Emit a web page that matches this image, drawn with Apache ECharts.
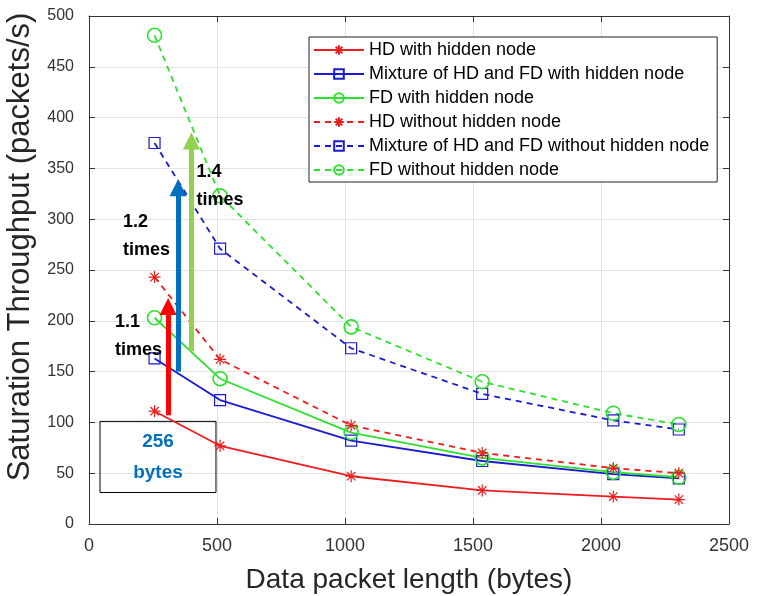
<!DOCTYPE html>
<html>
<head>
<meta charset="utf-8">
<script src="https://cdn.jsdelivr.net/npm/echarts@6/dist/echarts.min.js"></script>
<style>
  html, body { margin: 0; padding: 0; background: #fff; }
  #chart-container { width: 758px; height: 596px; }
</style>
</head>
<body>
<div id="chart-container"></div>
<script>
// packet lengths (bytes)
var packetLengths = [256, 512, 1024, 1536, 2048, 2304];

var seriesNames = [
  'HD with hidden node',
  'Mixture of HD and FD with hidden node',
  'FD with hidden node',
  'HD without hidden node',
  'Mixture of HD and FD without hidden node',
  'FD without hidden node'
];

var hdHidden = [111, 77, 47, 33, 27, 24];
var mixHidden = [163, 122, 82, 62, 49, 45];
var fdHidden = [203, 143, 90, 65, 51, 46];
var hdNoHidden = [243, 162, 97, 70, 55, 50];
var mixNoHidden = [375, 271, 173, 128, 102, 93];
var fdNoHidden = [481, 323, 194, 140, 109, 98];

// annotation arrows: [x, yFrom, yTo, colour]
var arrows = [
  [309, 107, 214, '#ff0000'],
  [348, 150, 331, '#0070c0'],
  [400, 170, 377, '#92d050']
];
// annotation texts: [x, y, text]
var ratioLabels = [
  [82, 185, '1.1\ntimes'],
  [113, 283, '1.2\ntimes'],
  [400, 333, '1.4\ntimes']
];

var RED = '#ee1c1c', BLUE = '#1a1ad2', GREEN = '#2ee02e';
var STAR = 'path://M5,0L5,10M0,5L10,5M1.5,1.5L8.5,8.5M8.5,1.5L1.5,8.5';
var SQUARE = 'path://M0,0L10,0L10,10L0,10Z';
var CIRCLE = 'path://M10,5A5,5,0,1,1,0,5A5,5,0,1,1,10,5Z';

function makeSeries(name, values, color, symbol, dashed) {
  var size = symbol === CIRCLE ? 14 : (symbol === STAR ? 12 : 11);
  return {
    name: name,
    type: 'line',
    data: packetLengths.map(function (x, i) { return [x, values[i]]; }),
    symbol: symbol,
    symbolSize: size,
    showAllSymbol: true,
    z: 3,
    lineStyle: { color: color, width: 1.8, type: dashed ? [6, 5] : 'solid' },
    itemStyle: { color: 'rgba(0,0,0,0)', borderColor: color, borderWidth: symbol === CIRCLE ? 1.6 : 1.2 },
    emphasis: { disabled: true }
  };
}

var chart = echarts.init(document.getElementById('chart-container'));

var series = [
  makeSeries(seriesNames[0], hdHidden, RED, STAR, false),
  makeSeries(seriesNames[1], mixHidden, BLUE, SQUARE, false),
  makeSeries(seriesNames[2], fdHidden, GREEN, CIRCLE, false),
  makeSeries(seriesNames[3], hdNoHidden, RED, STAR, true),
  makeSeries(seriesNames[4], mixNoHidden, BLUE, SQUARE, true),
  makeSeries(seriesNames[5], fdNoHidden, GREEN, CIRCLE, true)
];

// annotations drawn in data coordinates
series.push({
  type: 'line',
  data: [],
  silent: true,
  z: 5,
  markLine: {
    silent: true,
    symbol: ['none', 'triangle'],
    symbolSize: [17, 17],
    label: { show: false },
    data: arrows.map(function (a) {
      return [
        { coord: [a[0], a[1]], lineStyle: { color: a[3], width: 5, type: 'solid' } },
        { coord: [a[0], a[2]] }
      ];
    })
  },
  markArea: {
    silent: true,
    itemStyle: { color: 'rgba(0,0,0,0)', borderColor: '#000', borderWidth: 1 },
    label: {
      show: true,
      position: 'inside',
      formatter: '256\nbytes',
      color: '#0070c0',
      fontFamily: 'Liberation Sans',
      fontWeight: 'bold',
      fontSize: 19,
      lineHeight: 31
    },
    data: [[{ coord: [43, 101] }, { coord: [496, 31] }]]
  },
  markPoint: {
    silent: true,
    symbol: 'circle',
    symbolSize: 0,
    label: {
      show: true,
      position: 'right',
      color: '#000',
      fontFamily: 'Liberation Sans',
      fontWeight: 'bold',
      fontSize: 18,
      lineHeight: 28,
      align: 'left'
    },
    data: ratioLabels.map(function (t) {
      return { coord: [t[0], t[1]], label: { formatter: t[2] } };
    })
  }
});

var plainNum = function (v) { return String(v); };

var option = {
  animation: false,
  backgroundColor: '#fff',
  grid: { left: 89, right: 29, top: 16, bottom: 72, show: false, containLabel: false, outerBoundsMode: 'none' },
  legend: {
    data: seriesNames,
    orient: 'vertical',
    left: 309,
    top: 37,
    padding: [4, 8, 3, 4],
    itemWidth: 50,
    itemHeight: 12,
    itemGap: 6,
    backgroundColor: '#fff',
    borderColor: '#222',
    borderWidth: 1,
    textStyle: { color: '#000', fontSize: 18, fontFamily: 'Liberation Sans' },
    selectedMode: false
  },
  xAxis: [{
    type: 'value',
    min: 0,
    max: 2500,
    interval: 500,
    name: 'Data packet length (bytes)',
    nameLocation: 'middle',
    nameGap: 42,
    nameTextStyle: { color: '#262626', fontSize: 28, fontFamily: 'Liberation Sans' },
    axisLine: { show: true, lineStyle: { color: '#333', width: 1 } },
    axisTick: { show: true, inside: true, length: 6, lineStyle: { color: '#333' } },
    axisLabel: { color: '#333', fontSize: 18, fontFamily: 'Liberation Sans', margin: 13, formatter: plainNum },
    splitLine: { show: true, lineStyle: { color: '#e3e3e3', width: 1 } }
  }, {
    type: 'value',
    position: 'top',
    min: 0,
    max: 2500,
    interval: 500,
    axisLine: { show: true, onZero: false, lineStyle: { color: '#333', width: 1 } },
    axisTick: { show: true, inside: true, length: 6, lineStyle: { color: '#333' } },
    axisLabel: { show: false },
    splitLine: { show: false }
  }],
  yAxis: [{
    type: 'value',
    min: 0,
    max: 500,
    interval: 50,
    name: 'Saturation Throughput (packets/s)',
    nameLocation: 'middle',
    nameGap: 48,
    nameTextStyle: { color: '#262626', fontSize: 31, fontFamily: 'Liberation Sans', padding: [0, 0, 0, 46] },
    axisLine: { show: true, lineStyle: { color: '#333', width: 1 } },
    axisTick: { show: true, inside: true, length: 6, lineStyle: { color: '#333' } },
    axisLabel: { color: '#333', fontSize: 16, fontFamily: 'Liberation Sans', margin: 15, formatter: plainNum },
    splitLine: { show: true, lineStyle: { color: '#e3e3e3', width: 1 } }
  }, {
    type: 'value',
    position: 'right',
    min: 0,
    max: 500,
    interval: 50,
    axisLine: { show: true, onZero: false, lineStyle: { color: '#333', width: 1 } },
    axisTick: { show: true, inside: true, length: 6, lineStyle: { color: '#333' } },
    axisLabel: { show: false },
    splitLine: { show: false }
  }],
  series: series
};

chart.setOption(option);
</script>
</body>
</html>
